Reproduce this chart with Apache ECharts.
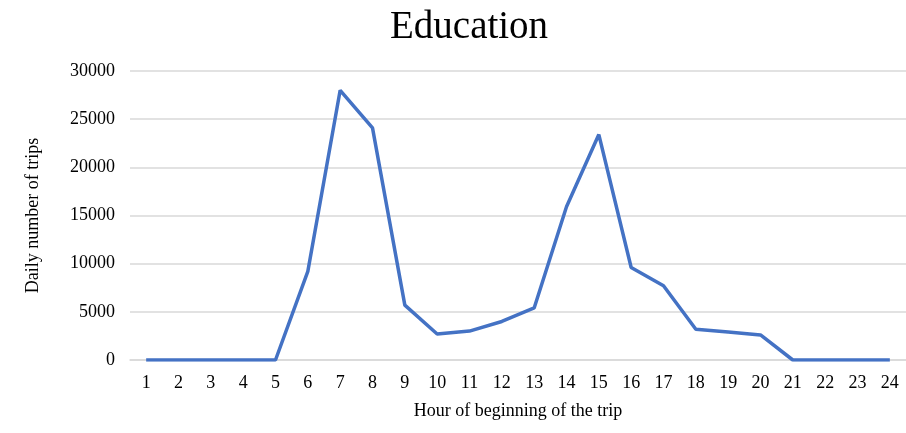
<!DOCTYPE html>
<html><head><meta charset="utf-8">
<script src="https://cdn.jsdelivr.net/npm/echarts@6/dist/echarts.min.js"></script>
<style>html,body{margin:0;padding:0;background:#fff}#c{width:906px;height:433px}</style>
</head><body><div id="c"></div>
<script>
const hours = ['1','2','3','4','5','6','7','8','9','10','11','12','13','14','15','16','17','18','19','20','21','22','23','24'];
const trips = [0,0,0,0,0,9200,28000,24100,5700,2700,3000,4000,5400,15900,23400,9600,7700,3200,2900,2600,0,0,0,0];
const titleText = 'Education';
const xName = 'Hour of beginning of the trip';
const yName = 'Daily number of trips';
const font = '"Liberation Serif","Times New Roman",serif';
const chart = echarts.init(document.getElementById('c'));
chart.setOption({
  animation:false,
  title:{text:titleText,left:385,top:3,textStyle:{fontFamily:font,fontSize:39,fontWeight:'normal',color:'#000'}},
  grid:{left:130,right:0,top:71,bottom:73},
  xAxis:{type:'category',data:hours,boundaryGap:true,
    name:xName,nameLocation:'middle',nameGap:42,
    nameTextStyle:{fontFamily:font,fontSize:18,color:'#000'},
    axisLine:{show:true,lineStyle:{color:'#d9d9d9',width:1.5}},axisTick:{show:false},
    axisLabel:{fontFamily:font,fontSize:18,color:'#000',margin:14}},
  yAxis:{type:'value',min:0,max:30000,interval:5000,
    name:yName,nameLocation:'middle',nameGap:88,
    nameTextStyle:{fontFamily:font,fontSize:18,color:'#000'},
    axisLine:{show:false},axisTick:{show:false},
    axisLabel:{fontFamily:font,fontSize:18,color:'#000',margin:15,formatter:v=>String(v)},
    splitLine:{lineStyle:{color:'#d9d9d9',width:1.5}}},
  series:[{type:'line',data:trips,symbol:'none',lineStyle:{color:'#4472C4',width:3.5}}]
});
</script></body></html>
